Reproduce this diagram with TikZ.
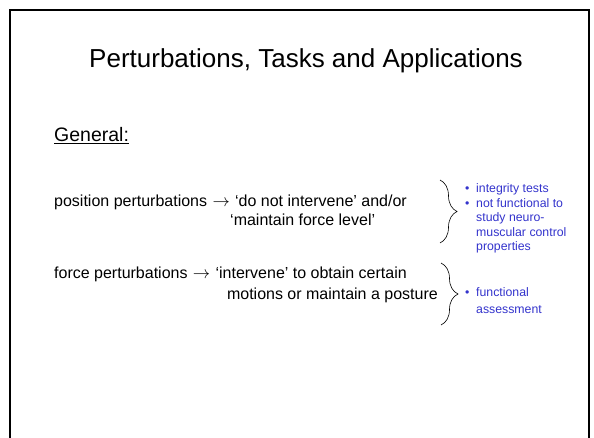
\documentclass[tikz,border=0pt]{standalone}
\usepackage{fontspec}
\setmainfont{Liberation Sans}
\usetikzlibrary{decorations.pathreplacing}
\usetikzlibrary{positioning}
\definecolor{noteblue}{RGB}{51,51,204}

\begin{document}
\begin{tikzpicture}[x=1pt,y=1pt,yscale=-1,xscale=1]
 \tikzstyle{body} = [anchor=base west,inner sep=0pt,font=\fontsize{16}{19.5}\selectfont]
 \tikzstyle{note} = [anchor=base west,inner sep=0pt,text=noteblue,font=\fontsize{12.3}{14}\selectfont]
 \tikzstyle{curly} = [decorate,decoration={brace,amplitude=17pt,aspect=0.5},line width=0.6pt]
  %set the slide size
 \useasboundingbox (0,0) rectangle (594,438);
  %Draw the slide frame
 \draw [line width=2pt] (10,438) -- (10,10) -- (589,10) -- (589,438);

  %Title and heading
 \node (title) [anchor=base,inner sep=0pt,font=\fontsize{26}{30}\selectfont] at (306,68) {Perturbations, Tasks and Applications};
 \node (general) [anchor=base west,inner sep=0pt,font=\fontsize{19.5}{23}\selectfont] at (54,141.5) {\underline{General:}};

  %position perturbations
 \node (pos1) [body] at (54,207) {position perturbations\,\,$\rightarrow$\,\,‘do not intervene’ and/or};
 \node (pos2) [body] at (230,226) {‘maintain force level’};
  %force perturbations
 \node (force1) [body] at (54,279) {force perturbations\,\,$\rightarrow$\,\,‘intervene’ to obtain certain};
 \node (force2) [body,anchor=base east] at (438,299) {motions or maintain a posture};

  %Draw the braces
 \coordinate (b1top) at (440,180);
 \coordinate (b1bot) at (440,243);
 \coordinate (b2top) at (441,263);
 \coordinate (b2bot) at (441,325);
 \draw [curly] (b1top) -- (b1bot);
 \draw [curly] (b2top) -- (b2bot);

  %Notes on the side
 \node (dot1) [note] at (465,193) {•};
 \node (int) [note] at (476,193) {integrity tests};
 \node (dot2) [note] at (465,207.5) {•};
 \node (nf1) [note] at (476,207.5) {not functional to};
 \node (nf2) [note] at (476,222) {study neuro-};
 \node (nf3) [note] at (476,236.5) {muscular control};
 \node (nf4) [note] at (476,251) {properties};
 \node (dot3) [note] at (465,297) {•};
 \node (fa1) [note] at (476,297) {functional};
 \node (fa2) [note] at (476,313) {assessment};

\end{tikzpicture}
\end{document}
